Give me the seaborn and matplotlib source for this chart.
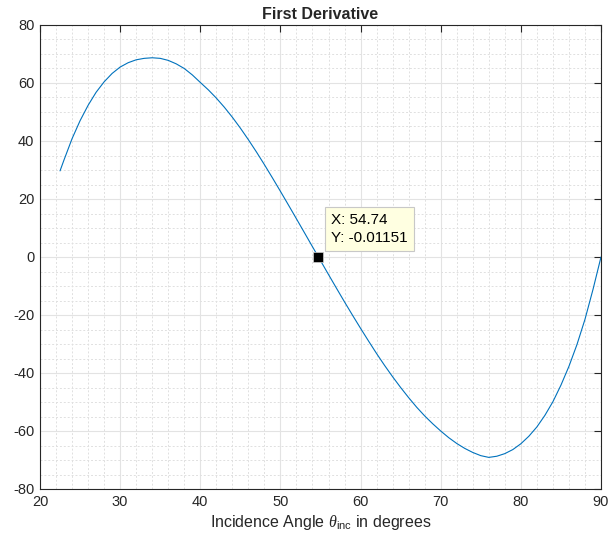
""" First derivative plot, MATLAB look-alike. """
import pandas as pd
import seaborn as sns
import matplotlib.pyplot as plt
from matplotlib.ticker import MultipleLocator

# values (degrees, derivative)
angle = [22.5, 23, 24, 25, 26, 27, 28, 29, 30, 31, 32, 33, 34, 35, 36,
         37, 38, 39, 40, 41, 42, 43, 44, 45, 46, 47, 48, 49, 50, 51, 52,
         53, 54, 54.74, 55, 56, 57, 58, 59, 60, 61, 62, 63, 64, 65, 66,
         67, 68, 69, 70, 71, 72, 73, 74, 75, 76, 77, 78, 79, 80, 81, 82,
         83, 84, 85, 86, 87, 88, 89, 90]
deriv = [29.7, 33.5, 40.8, 47.0, 52.3, 56.8, 60.4, 63.3, 65.5, 67.0, 68.0,
         68.5, 68.7, 68.5, 67.8, 66.6, 65.0, 62.8, 60.2, 57.65, 54.8, 51.65,
         48.2, 44.45, 40.45, 36.25, 31.85, 27.3, 22.65, 17.93, 13.16, 8.36,
         3.54, -0.0115, -1.25, -6.05, -10.8, -15.5, -20.1, -24.6, -29.0,
         -33.3, -37.4, -41.3, -45.0, -48.5, -51.8, -54.8, -57.5, -60.0,
         -62.3, -64.3, -66.0, -67.4, -68.5, -69.1, -68.7, -67.8, -66.4,
         -64.4, -61.8, -58.6, -54.6, -49.9, -44.2, -37.7, -30.2, -21.5,
         -11.2, 0.0]
tip_x = 54.74
tip_y = -0.01151

df = pd.DataFrame({'angle': angle, 'deriv': deriv})

sns.set_style("white")
plt.rcParams['font.family'] = ['Liberation Sans', 'DejaVu Sans']
plt.rcParams['axes.unicode_minus'] = False
plt.rcParams['mathtext.fontset'] = 'custom'
plt.rcParams['mathtext.rm'] = 'Liberation Sans'
plt.rcParams['mathtext.it'] = 'Liberation Serif:italic'

fig = plt.figure(figsize=(6.09, 5.47), dpi=100)
ax = fig.add_axes([40 / 609, 1 - 489 / 547, 561 / 609, 464 / 547])

sns.lineplot(x='angle', y='deriv', data=df, ax=ax, sort=False,
             estimator=None, color='#0072BD', linewidth=0.8)

# data tip
ax.plot([tip_x], [tip_y], marker='s', markersize=7, color='black',
        markeredgecolor='#d0d0d0', markeredgewidth=0.5, zorder=5)
ax.annotate('X: %.2f\nY: %.4g' % (tip_x, tip_y), xy=(tip_x, tip_y),
            xytext=(9, 9), textcoords='offset points', fontsize=11,
            ha='left', va='bottom', linespacing=1.3, color='black',
            bbox=dict(boxstyle='square,pad=0.4', fc='#ffffe1', ec='#c8c8c8',
                      lw=0.8), zorder=6)

ax.set_xlim(20, 90)
ax.set_ylim(-80, 80)
ax.xaxis.set_major_locator(MultipleLocator(10))
ax.yaxis.set_major_locator(MultipleLocator(20))
ax.xaxis.set_minor_locator(MultipleLocator(2))
ax.yaxis.set_minor_locator(MultipleLocator(5))
ax.grid(which='major', color='#e3e3e3', linestyle='-', linewidth=0.8)
ax.grid(which='minor', color='#e0e0e0', linestyle=(0, (2, 2)), linewidth=0.7)
ax.set_axisbelow(True)
ax.tick_params(which='major', direction='in', length=5, width=0.8,
               color='#262626', labelsize=10.5, labelcolor='#262626',
               top=True, right=True, pad=4)
ax.tick_params(which='minor', length=0)
for side in ax.spines.values():
    side.set_color('#262626')
    side.set_linewidth(0.8)

ax.set_title('First Derivative', fontsize=11.5, fontweight='bold', pad=4)
ax.set_xlabel(r'Incidence Angle $\theta_{\mathrm{inc}}$ in degrees',
              fontsize=11.5, color='#262626', labelpad=3)
ax.set_ylabel('')

fig.savefig('out.png', dpi=100)
